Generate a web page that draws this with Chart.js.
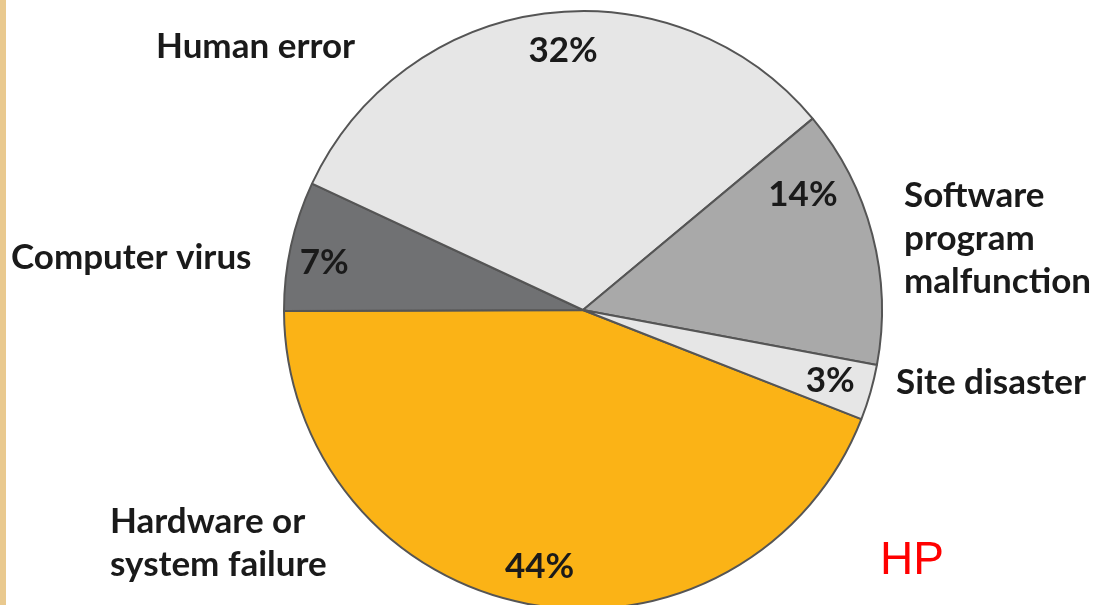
<!DOCTYPE html>
<html>
<head>
<meta charset="utf-8">
<script src="https://cdn.jsdelivr.net/npm/chart.js@4"></script>
<style>
  html, body { margin: 0; padding: 0; background: #fff; overflow: hidden; }
  #wrap { position: relative; width: 1096px; height: 620px; }
  #strip { position: absolute; left: 0; top: 0; width: 6px; height: 605px; background: #e9c98f; z-index: 2; }
</style>
</head>
<body>
<div id="wrap">
  <div id="strip"></div>
  <canvas id="pie" width="1096" height="620"></canvas>
</div>
<script>
// causes of data loss, in percent
const categories = ["Hardware or system failure", "Computer virus", "Human error", "Software program malfunction", "Site disaster"];
const shares = [44, 7, 32, 14, 3];
const sliceColors = ["#fbb316", "#707173", "#e6e6e6", "#a9a9a9", "#e6e6e6"];

// outside label text, line by line
const outsideLabels = [
  ["Hardware or", "system failure"],
  ["Computer virus"],
  ["Human error"],
  ["Software", "program", "malfunction"],
  ["Site disaster"]
];

// where the text sits (layout only)
const outsidePos = [
  { x: 110, y: 522 },
  { x: 11, y: 258 },
  { x: 156, y: 47 },
  { x: 904, y: 196 },
  { x: 896, y: 383 }
];
// percent label placement: fraction of radius, angle nudge in degrees
const pctPlace = [
  { r: 0.87, da: -1 },
  { r: 0.88, da: -2 },
  { r: 0.87, da: 3 },
  { r: 0.83, da: -13 },
  { r: 0.86, da: 0 }
];

const FONT = "bold 35px 'Lato', 'DejaVu Sans', sans-serif";

const labelPlugin = {
  id: "labelPlugin",
  afterDraw(chart) {
    const ctx = chart.ctx;
    const arcs = chart.getDatasetMeta(0).data;
    ctx.save();
    ctx.fillStyle = "#1a1a1a";
    ctx.font = FONT;
    ctx.textBaseline = "middle";

    // percent labels from the arc geometry
    ctx.textAlign = "center";
    arcs.forEach((arc, i) => {
      const p = arc.getProps(["x", "y", "startAngle", "endAngle", "outerRadius"], true);
      const mid = (p.startAngle + p.endAngle) / 2 + pctPlace[i].da * Math.PI / 180;
      const r = p.outerRadius * pctPlace[i].r;
      ctx.fillText(shares[i] + "%", p.x + Math.cos(mid) * r, p.y + Math.sin(mid) * r);
    });

    // category names outside
    ctx.textAlign = "left";
    outsideLabels.forEach((lines, i) => {
      lines.forEach((ln, j) => {
        ctx.fillText(ln, outsidePos[i].x, outsidePos[i].y + j * 43);
      });
    });

    // red mark
    ctx.fillStyle = "#ff0000";
    ctx.font = "46px 'Liberation Sans', Arial, sans-serif";
    ctx.fillText("HP", 880, 561);
    ctx.restore();
  }
};

new Chart(document.getElementById("pie").getContext("2d"), {
  type: "pie",
  data: {
    labels: categories,
    datasets: [{
      data: shares,
      backgroundColor: sliceColors,
      borderColor: "#555555",
      borderWidth: 2
    }]
  },
  options: {
    responsive: false,
    animation: false,
    rotation: 111.4,
    layout: { padding: { left: 283, right: 213, top: 10, bottom: 10 } },
    plugins: {
      legend: { display: false },
      tooltip: { enabled: false }
    }
  },
  plugins: [labelPlugin]
});
</script>
</body>
</html>
